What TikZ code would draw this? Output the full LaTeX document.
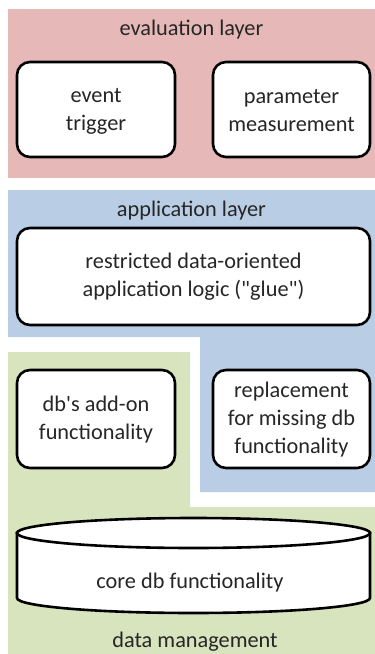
\documentclass[tikz,border=0pt]{standalone}
\usepackage{fontspec}
\newfontfamily\calfont{Carlito}
\definecolor{evalred}{HTML}{E6B9B8}
\definecolor{appblue}{HTML}{B9CDE5}
\definecolor{datagreen}{HTML}{D7E4BD}
\begin{document}
\begin{tikzpicture}[x=1pt,y=-1pt,
  box/.style={draw=black,line width=2.6pt,fill=white,rounded corners=13pt},
  lbl/.style={font=\calfont\fontsize{22.3}{28}\selectfont,align=center,text=black!85},
  layerlbl/.style={font=\calfont\fontsize{22.3}{28}\selectfont,text=black!85}]
\useasboundingbox (0,0) rectangle (375,654);
% layer backgrounds
\fill[evalred] (8,9) rectangle (375,178);
\fill[appblue] (8,190) -- (375,190) -- (375,492) -- (200,492) -- (200,337) -- (8,337) -- cycle;
\fill[datagreen] (8,352) -- (190,352) -- (190,507) -- (375,507) -- (375,654) -- (8,654) -- cycle;
% layer labels
\node[layerlbl] (evallbl) at (191.5,30) {evaluation layer};
\node[layerlbl] (applbl) at (191.5,211) {application layer};
\node[layerlbl] (datalbl) at (195,642) {data management};
% evaluation layer boxes
\draw[box] (17,62) rectangle (175,157);
\node[lbl] (event) at (96,111) {event\\trigger};
\draw[box] (213,62) rectangle (370,157);
\node[lbl] (param) at (291.5,111) {parameter\\measurement};
% application layer
\draw[box] (17,228) rectangle (370,325);
\node[lbl] (glue) at (193.5,277) {restricted data-oriented\\application logic ("glue")};
% add-on and replacement
\draw[box] (17,370) rectangle (175,468);
\node[lbl] (addon) at (96,420) {db's add-on\\functionality};
\draw[box] (213,370) rectangle (370,468);
\node[lbl] (repl) at (291.5,420) {replacement\\for missing db\\functionality};
% core db cylinder
\draw[line width=2.6pt,fill=white] (17,533) -- (17,598) arc[start angle=180,end angle=360,x radius=176.5,y radius=-15] -- (370,533) -- cycle;
\draw[line width=2.6pt,fill=white] (193.5,533) ellipse [x radius=176.5, y radius=15];
\node[lbl] (core) at (190,583) {core db functionality};
\end{tikzpicture}
\end{document}
